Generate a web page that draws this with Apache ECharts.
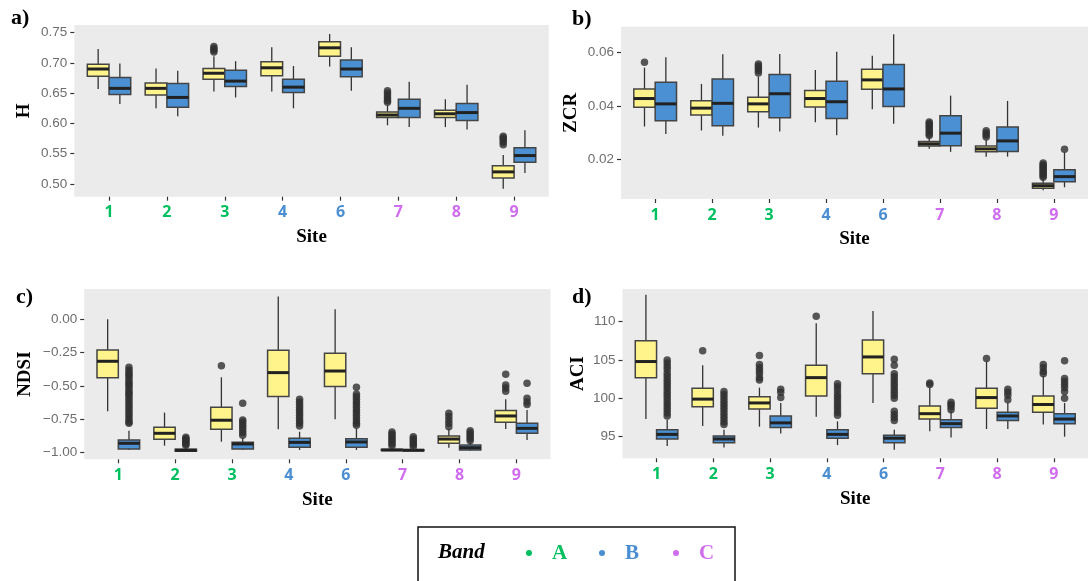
<!DOCTYPE html>
<html lang="en">
<head>
<meta charset="UTF-8">
<title>Acoustic indices by site</title>
<style>
  html, body { margin: 0; padding: 0; background: #fff; }
  #main { width: 1088px; height: 581px; }
</style>
</head>
<body>
<div id="main"></div>
<script src="https://cdn.jsdelivr.net/npm/echarts@6/dist/echarts.min.js"></script>
<script>
// sites on the x axis and the band each one belongs to
var sites = ['1', '2', '3', '4', '6', '7', '8', '9'];
var siteBand = ['A', 'A', 'A', 'B', 'B', 'C', 'C', 'C'];
var bands = ['A', 'B', 'C'];

// y tick values of each panel
var hTicks = [0.50, 0.55, 0.60, 0.65, 0.70, 0.75];
var zcrTicks = [0.02, 0.04, 0.06];
var ndsiTicks = [-1.00, -0.75, -0.50, -0.25, 0.00];
var aciTicks = [95, 100, 105, 110];

// boxes: [lower whisker, Q1, median, Q3, upper whisker] per site
// a) H
var hYellow = [
  [0.657, 0.678, 0.690, 0.698, 0.723],
  [0.625, 0.647, 0.658, 0.667, 0.691],
  [0.653, 0.673, 0.683, 0.691, 0.711],
  [0.653, 0.679, 0.692, 0.702, 0.726],
  [0.694, 0.711, 0.725, 0.735, 0.748],
  [0.597, 0.610, 0.614, 0.619, 0.630],
  [0.594, 0.610, 0.616, 0.622, 0.640],
  [0.492, 0.510, 0.520, 0.530, 0.548]
];
var hYellowOut = [[], [], [0.727, 0.724, 0.721, 0.718], [], [],
  [0.654, 0.650, 0.646, 0.642, 0.638, 0.635], [], [0.579, 0.576, 0.573, 0.569, 0.565]];
var hBlue = [
  [0.632, 0.648, 0.658, 0.676, 0.699],
  [0.612, 0.627, 0.643, 0.666, 0.687],
  [0.643, 0.661, 0.670, 0.688, 0.703],
  [0.625, 0.651, 0.660, 0.673, 0.695],
  [0.654, 0.677, 0.690, 0.705, 0.726],
  [0.594, 0.610, 0.625, 0.640, 0.669],
  [0.590, 0.605, 0.618, 0.633, 0.664],
  [0.518, 0.536, 0.547, 0.560, 0.589]
];
var hBlueOut = [[], [], [], [], [], [], [], []];

// b) ZCR
var zcrYellow = [
  [0.0323, 0.0395, 0.0428, 0.0464, 0.0544],
  [0.0308, 0.0366, 0.0392, 0.0420, 0.0483],
  [0.0319, 0.0378, 0.0408, 0.0433, 0.0510],
  [0.0339, 0.0396, 0.0428, 0.0458, 0.0535],
  [0.0388, 0.0463, 0.0498, 0.0538, 0.0589],
  [0.0240, 0.0250, 0.0258, 0.0267, 0.0282],
  [0.0210, 0.0228, 0.0239, 0.0250, 0.0273],
  [0.0084, 0.0091, 0.0101, 0.0110, 0.0128]
];
var zcrYellowOut = [[0.0564], [], [0.0558, 0.0550, 0.0542, 0.0533, 0.0524], [], [],
  [0.0340, 0.0334, 0.0327, 0.0320, 0.0312, 0.0304, 0.0296, 0.0289],
  [0.0307, 0.0299, 0.0291, 0.0284],
  [0.0186, 0.0180, 0.0174, 0.0168, 0.0162, 0.0156, 0.0150, 0.0144, 0.0138, 0.0133]];
var zcrBlue = [
  [0.0295, 0.0345, 0.0408, 0.0489, 0.0583],
  [0.0288, 0.0326, 0.0410, 0.0501, 0.0594],
  [0.0304, 0.0356, 0.0446, 0.0518, 0.0595],
  [0.0290, 0.0353, 0.0416, 0.0493, 0.0604],
  [0.0333, 0.0398, 0.0464, 0.0556, 0.0669],
  [0.0228, 0.0251, 0.0298, 0.0363, 0.0439],
  [0.0210, 0.0229, 0.0269, 0.0321, 0.0419],
  [0.0095, 0.0116, 0.0135, 0.0161, 0.0226]
];
var zcrBlueOut = [[], [], [], [], [], [], [], [0.0238]];

// c) NDSI
var ndsiYellow = [
  [-0.690, -0.438, -0.315, -0.230, 0.000],
  [-0.948, -0.900, -0.855, -0.810, -0.700],
  [-0.918, -0.825, -0.757, -0.660, -0.435],
  [-0.825, -0.580, -0.400, -0.233, 0.170],
  [-0.750, -0.505, -0.388, -0.255, 0.075],
  [-0.990, -0.984, -0.980, -0.976, -0.965],
  [-0.963, -0.930, -0.898, -0.875, -0.825],
  [-0.823, -0.773, -0.725, -0.685, -0.600]
];
var ndsiYellowOut = [[], [], [-0.348], [], [],
  [-0.845, -0.860, -0.875, -0.890, -0.905, -0.920, -0.935, -0.950],
  [-0.705, -0.730, -0.755, -0.780, -0.805],
  [-0.413, -0.493, -0.515, -0.540]];
var ndsiBlue = [
  [-0.980, -0.973, -0.930, -0.905, -0.835],
  [-0.995, -0.990, -0.982, -0.975, -0.962],
  [-0.980, -0.973, -0.935, -0.923, -0.890],
  [-0.980, -0.960, -0.923, -0.893, -0.843],
  [-0.980, -0.960, -0.920, -0.895, -0.818],
  [-0.992, -0.986, -0.982, -0.978, -0.965],
  [-0.985, -0.980, -0.963, -0.943, -0.925],
  [-0.905, -0.855, -0.818, -0.780, -0.680]
];
var ndsiBlueOut = [
  [-0.360, -0.380, -0.400, -0.415, -0.430, -0.450, -0.470, -0.485, -0.500, -0.520, -0.540, -0.555,
   -0.570, -0.590, -0.610, -0.630, -0.650, -0.670, -0.690, -0.710, -0.730, -0.750, -0.770, -0.780],
  [-0.885, -0.895, -0.905, -0.915, -0.925, -0.935, -0.945],
  [-0.630, -0.755, -0.770, -0.790, -0.810, -0.830, -0.850, -0.870],
  [-0.600, -0.620, -0.640, -0.660, -0.680, -0.700, -0.720, -0.740, -0.760, -0.780, -0.800],
  [-0.510, -0.560, -0.580, -0.600, -0.620, -0.640, -0.660, -0.680, -0.700, -0.720, -0.740, -0.760, -0.780, -0.795],
  [-0.880, -0.895, -0.910, -0.925, -0.940, -0.955],
  [-0.835, -0.850, -0.865, -0.880, -0.895, -0.910],
  [-0.480, -0.593, -0.620, -0.640]
];

// d) ACI
var aciYellow = [
  [97.3, 102.7, 104.8, 107.5, 113.5],
  [96.4, 98.9, 99.9, 101.3, 104.3],
  [96.3, 98.6, 99.4, 100.2, 101.4],
  [97.6, 100.3, 102.7, 104.3, 109.8],
  [99.4, 103.2, 105.4, 107.6, 111.4],
  [95.7, 97.3, 98.0, 99.0, 101.4],
  [96.0, 98.7, 100.1, 101.3, 104.8],
  [96.6, 98.2, 99.2, 100.3, 102.9]
];
var aciYellowOut = [[], [106.2], [105.6, 104.4, 104.0, 103.6, 103.2, 102.7, 102.4], [110.7], [],
  [102.0, 101.8], [105.2], [104.4, 104.0, 103.5, 103.2]];
var aciBlue = [
  [93.8, 94.7, 95.3, 95.9, 97.2],
  [93.6, 94.2, 94.7, 95.1, 95.9],
  [95.4, 96.2, 96.8, 97.7, 99.4],
  [93.9, 94.8, 95.3, 95.9, 97.0],
  [93.3, 94.2, 94.8, 95.2, 95.9],
  [94.9, 96.2, 96.7, 97.2, 98.3],
  [96.0, 97.1, 97.7, 98.2, 99.4],
  [95.0, 96.7, 97.3, 98.0, 99.4]
];
var aciBlueOut = [
  [105.0, 104.6, 104.2, 103.8, 103.3, 102.9, 102.5, 102.1, 101.7, 101.3, 100.9, 100.5, 100.1, 99.7, 99.3, 98.9, 98.5, 98.1, 97.7],
  [100.9, 100.5, 100.1, 99.7, 99.3, 98.9, 98.5, 98.1, 97.7, 97.3, 96.9, 96.6],
  [101.2, 100.8, 100.1],
  [101.9, 101.5, 101.1, 100.6, 100.2, 99.8, 99.4, 99.0, 98.6, 98.2, 97.8],
  [105.1, 104.3, 103.2, 102.8, 102.4, 102.0, 101.6, 101.2, 100.8, 100.4, 100.0, 98.3, 97.9, 97.5, 97.1],
  [99.5, 99.2, 98.9, 98.5],
  [101.2, 100.8, 100.4, 99.8],
  [104.9, 102.6, 102.2, 101.8, 101.4, 100.9, 100.0]
];

var bandColor = { A: '#00BF5F', B: '#4B8ED2', C: '#D06CEE' };
var yellowFill = '#FFF38C';
var blueFill = '#4A90D2';
var DODGE = 0.1875;   // half of the dodge width
var BOX_W = 0.375;    // box width in category units

var myChart = echarts.init(document.getElementById('main'));

function boxRenderer(fill) {
  return function (params, api) {
    var x = api.value(0);
    var lo = api.coord([x, api.value(1)]);
    var q1 = api.coord([x, api.value(2)]);
    var md = api.coord([x, api.value(3)]);
    var q3 = api.coord([x, api.value(4)]);
    var hi = api.coord([x, api.value(5)]);
    var half = api.size([BOX_W / 2, 0])[0];
    var cx = lo[0];
    return {
      type: 'group',
      children: [
        { type: 'line', shape: { x1: cx, y1: hi[1], x2: cx, y2: q3[1] }, style: { stroke: '#333', lineWidth: 1.3 } },
        { type: 'line', shape: { x1: cx, y1: q1[1], x2: cx, y2: lo[1] }, style: { stroke: '#333', lineWidth: 1.3 } },
        { type: 'rect', shape: { x: cx - half, y: q3[1], width: half * 2, height: q1[1] - q3[1] },
          style: { fill: fill, stroke: '#444', lineWidth: 1.5 } },
        { type: 'line', shape: { x1: cx - half, y1: md[1], x2: cx + half, y2: md[1] }, style: { stroke: '#222', lineWidth: 3 } }
      ]
    };
  };
}

function boxData(boxes, shift) {
  var out = [];
  for (var i = 0; i < boxes.length; i++) {
    out.push([i + 1 + shift].concat(boxes[i]));
  }
  return out;
}

function outlierData(outs, shift) {
  var out = [];
  for (var i = 0; i < outs.length; i++) {
    for (var j = 0; j < outs[i].length; j++) {
      out.push([i + 1 + shift, outs[i][j]]);
    }
  }
  return out;
}

var siteRich = {};
bands.forEach(function (b) {
  siteRich[b] = { color: bandColor[b], fontFamily: 'Open Sans', fontWeight: 'bold', fontSize: 16 };
});

var serif = 'Liberation Serif';

// panel layout [left, top, width, height]
var panels = [
  { box: [74.3, 25, 474.5, 171.7], name: 'H', min: 0.479, max: 0.7627, ticks: hTicks, gap: 41,
    yel: hYellow, yelOut: hYellowOut, blu: hBlue, bluOut: hBlueOut,
    fmt: function (v) { return v.toFixed(2); } },
  { box: [621, 26.7, 477.2, 172.3], name: 'ZCR', min: 0.0051, max: 0.06976, ticks: zcrTicks, gap: 40,
    yel: zcrYellow, yelOut: zcrYellowOut, blu: zcrBlue, bluOut: zcrBlueOut,
    fmt: function (v) { return v.toFixed(2); } },
  { box: [84.2, 289, 466.3, 170.3], name: 'NDSI', min: -1.05, max: 0.227, ticks: ndsiTicks, gap: 50,
    yel: ndsiYellow, yelOut: ndsiYellowOut, blu: ndsiBlue, bluOut: ndsiBlueOut,
    fmt: function (v) { return (v < 0 ? '\u2212' : '') + Math.abs(v).toFixed(2); } },
  { box: [622.5, 289, 475.6, 169.3], name: 'ACI', min: 92.18, max: 114.26, ticks: aciTicks, gap: 35,
    yel: aciYellow, yelOut: aciYellowOut, blu: aciBlue, bluOut: aciBlueOut,
    fmt: function (v) { return String(v); } }
];

var grids = [], xAxes = [], yAxes = [], series = [];
var siteVals = [1, 2, 3, 4, 5, 6, 7, 8];

panels.forEach(function (p, k) {
  grids.push({
    left: p.box[0], top: p.box[1], width: p.box[2], height: p.box[3],
    show: true, backgroundColor: '#EBEBEB', borderWidth: 0
  });
  xAxes.push({
    gridIndex: k, type: 'value', min: 0.4, max: 8.6,
    name: 'Site', nameLocation: 'middle', nameGap: 31,
    nameTextStyle: { fontFamily: serif, fontWeight: 'bold', fontSize: 19, color: '#000' },
    axisLine: { show: false, onZero: false },
    axisTick: { show: true, length: 4, customValues: siteVals, lineStyle: { color: '#333', width: 1.2 } },
    axisLabel: {
      customValues: siteVals, margin: 8,
      formatter: function (v) {
        var i = Math.round(v) - 1;
        return '{' + siteBand[i] + '|' + sites[i] + '}';
      },
      rich: siteRich
    },
    splitLine: { show: false }
  });
  yAxes.push({
    gridIndex: k, type: 'value', min: p.min, max: p.max,
    name: p.name, nameLocation: 'middle', nameGap: p.gap, nameRotate: 90,
    nameTextStyle: { fontFamily: serif, fontWeight: 'bold', fontSize: 19, color: '#000' },
    axisLine: { show: false, onZero: false },
    axisTick: { show: true, length: 4, customValues: p.ticks, lineStyle: { color: '#333', width: 1.2 } },
    axisLabel: {
      customValues: p.ticks, margin: 7, color: '#6e6e6e',
      fontFamily: 'Liberation Sans', fontSize: 13.5, formatter: p.fmt
    },
    splitLine: { show: false }
  });
  series.push({
    type: 'custom', xAxisIndex: k, yAxisIndex: k,
    renderItem: boxRenderer(yellowFill), encode: { x: 0, y: [1, 2, 3, 4, 5] },
    data: boxData(p.yel, -DODGE)
  });
  series.push({
    type: 'custom', xAxisIndex: k, yAxisIndex: k,
    renderItem: boxRenderer(blueFill), encode: { x: 0, y: [1, 2, 3, 4, 5] },
    data: boxData(p.blu, DODGE)
  });
  series.push({
    type: 'scatter', xAxisIndex: k, yAxisIndex: k, symbolSize: 7.5,
    itemStyle: { color: '#2f2f2f' }, data: outlierData(p.yelOut, -DODGE)
  });
  series.push({
    type: 'scatter', xAxisIndex: k, yAxisIndex: k, symbolSize: 7.5,
    itemStyle: { color: '#2f2f2f' }, data: outlierData(p.bluOut, DODGE)
  });
});

var tagStyle = { fontFamily: serif, fontWeight: 'bold', fontSize: 22, color: '#000' };

var option = {
  animation: false,
  title: [
    { text: 'a)', left: 11, top: 7, textStyle: tagStyle, padding: 0 },
    { text: 'b)', left: 572, top: 8, textStyle: tagStyle, padding: 0 },
    { text: 'c)', left: 16, top: 286, textStyle: tagStyle, padding: 0 },
    { text: 'd)', left: 572, top: 286, textStyle: tagStyle, padding: 0 }
  ],
  grid: grids,
  xAxis: xAxes,
  yAxis: yAxes,
  series: series,
  graphic: [
    { type: 'rect', shape: { x: 418, y: 527, width: 317, height: 70 },
      style: { fill: '#fff', stroke: '#111', lineWidth: 1.5 } },
    { type: 'text', x: 438, y: 553,
      style: { text: 'Band', fontFamily: serif, fontWeight: 'bold', fontStyle: 'italic', fontSize: 21,
               fill: '#000', verticalAlign: 'middle' } },
    { type: 'circle', shape: { cx: 529, cy: 553, r: 3 }, style: { fill: bandColor.A } },
    { type: 'text', x: 552, y: 554, style: { text: 'A', fontFamily: serif, fontWeight: 'bold', fontSize: 21, fill: bandColor.A, verticalAlign: 'middle' } },
    { type: 'circle', shape: { cx: 602, cy: 553, r: 3 }, style: { fill: bandColor.B } },
    { type: 'text', x: 625, y: 554, style: { text: 'B', fontFamily: serif, fontWeight: 'bold', fontSize: 21, fill: bandColor.B, verticalAlign: 'middle' } },
    { type: 'circle', shape: { cx: 676, cy: 553, r: 3 }, style: { fill: bandColor.C } },
    { type: 'text', x: 699, y: 554, style: { text: 'C', fontFamily: serif, fontWeight: 'bold', fontSize: 21, fill: bandColor.C, verticalAlign: 'middle' } }
  ]
};

myChart.setOption(option);
</script>
</body>
</html>
